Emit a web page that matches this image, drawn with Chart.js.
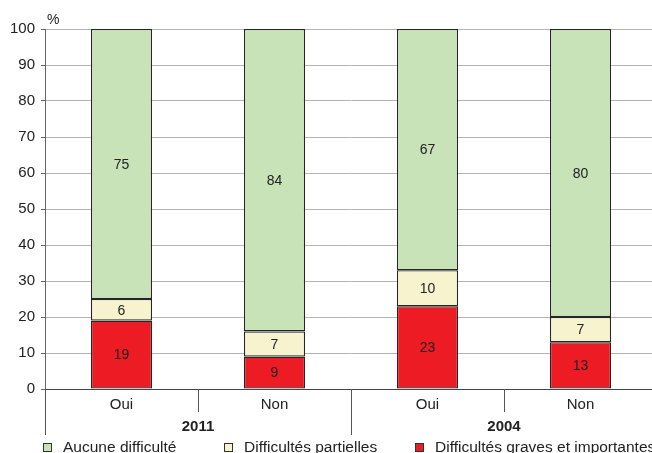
<!DOCTYPE html>
<html>
<head>
<meta charset="utf-8">
<script src="https://cdn.jsdelivr.net/npm/chart.js@4.4.1/dist/chart.umd.min.js"></script>
<style>
  html, body { margin: 0; padding: 0; background: #fff; overflow: hidden; }
  #wrap { position: absolute; left: 0; top: 0; width: 657px; height: 453px; }
</style>
</head>
<body>
<div id="wrap"><canvas id="chart"></canvas></div>
<script>
const categories = ['Oui', 'Non', 'Oui', 'Non'];
const groups = ['2011', '2004'];
const graves = [19, 9, 23, 13];
const partielles = [6, 7, 10, 7];
const aucune = [75, 84, 67, 80];
const yTicks = [0, 10, 20, 30, 40, 50, 60, 70, 80, 90, 100];

const FONT = '"Liberation Sans", Arial, sans-serif';
Chart.defaults.font.family = FONT;
Chart.defaults.color = '#222';

// values written in the middle of each segment
const valueLabels = {
  id: 'valueLabels',
  afterDatasetsDraw(chart) {
    const ctx = chart.ctx;
    ctx.save();
    ctx.font = '14px ' + FONT;
    ctx.fillStyle = '#222';
    ctx.textAlign = 'center';
    ctx.textBaseline = 'middle';
    chart.data.datasets.forEach((ds, i) => {
      chart.getDatasetMeta(i).data.forEach((bar, j) => {
        ctx.fillText(ds.data[j], bar.x, (bar.y + bar.base) / 2 + 1);
      });
    });
    ctx.restore();
  }
};

// two level x axis: separators and year labels, plus the legend
const groupAxis = {
  id: 'groupAxis',
  afterDraw(chart) {
    const ctx = chart.ctx;
    const x = chart.scales.x;
    const area = chart.chartArea;
    ctx.save();
    ctx.strokeStyle = '#555';
    ctx.lineWidth = 1;
    const line = (px, y2) => {
      ctx.beginPath();
      ctx.moveTo(Math.round(px) + 0.5, area.bottom);
      ctx.lineTo(Math.round(px) + 0.5, y2);
      ctx.stroke();
    };
    line(area.left, 435);
    line(x.getPixelForValue(0.5), 412);
    line(x.getPixelForValue(1.5), 435);
    line(x.getPixelForValue(2.5), 412);

    ctx.font = 'bold 15px ' + FONT;
    ctx.fillStyle = '#222';
    ctx.textAlign = 'center';
    ctx.textBaseline = 'middle';
    groups.forEach((g, i) => {
      ctx.fillText(g, x.getPixelForValue(i * 2 + 0.5), 427);
    });

    ctx.font = '14px ' + FONT;
    ctx.textAlign = 'left';
    ctx.fillText('%', 47, 20);

    // legend
    const legendX = [43, 224, 415];
    const order = [2, 1, 0];
    ctx.font = '15.5px ' + FONT;
    order.forEach((di, k) => {
      const ds = chart.data.datasets[di];
      const lx = legendX[k];
      ctx.fillStyle = ds.backgroundColor;
      ctx.fillRect(lx + 0.5, 443.5, 8, 8);
      ctx.strokeStyle = '#333';
      ctx.strokeRect(lx + 0.5, 443.5, 8, 8);
      ctx.fillStyle = '#222';
      ctx.fillText(ds.label, lx + 20, 448);
    });
    ctx.restore();
  }
};

new Chart(document.getElementById('chart'), {
  type: 'bar',
  data: {
    labels: categories,
    datasets: [
      { label: 'Difficultés graves et importantes', data: graves, backgroundColor: '#ed1c24' },
      { label: 'Difficultés partielles', data: partielles, backgroundColor: '#f8f3cf' },
      { label: 'Aucune difficulté', data: aucune, backgroundColor: '#c9e3b9' }
    ].map(d => Object.assign(d, {
      borderColor: '#262626',
      borderWidth: 1.3,
      borderSkipped: false,
      barPercentage: 0.4,
      categoryPercentage: 1
    }))
  },
  options: {
    responsive: true,
    maintainAspectRatio: false,
    animation: false,
    layout: { padding: { top: 29, right: 0, bottom: 0, left: 0 } },
    plugins: {
      legend: { display: false },
      tooltip: { enabled: false }
    },
    scales: {
      x: {
        stacked: true,
        grid: { display: false, drawTicks: false },
        border: { color: '#444' },
        ticks: { font: { size: 15 }, padding: 7, color: '#222' },
        afterFit: s => { s.height = 64; }
      },
      y: {
        stacked: true,
        min: 0,
        max: 100,
        afterBuildTicks: s => { s.ticks = yTicks.map(v => ({ value: v })); },
        grid: { color: '#b4b4b4', tickLength: 4, tickColor: '#666' },
        border: { color: '#666' },
        ticks: { font: { size: 15 }, padding: 6, color: '#222' },
        afterFit: s => { s.width = 45; }
      }
    }
  },
  plugins: [valueLabels, groupAxis]
});
</script>
</body>
</html>
